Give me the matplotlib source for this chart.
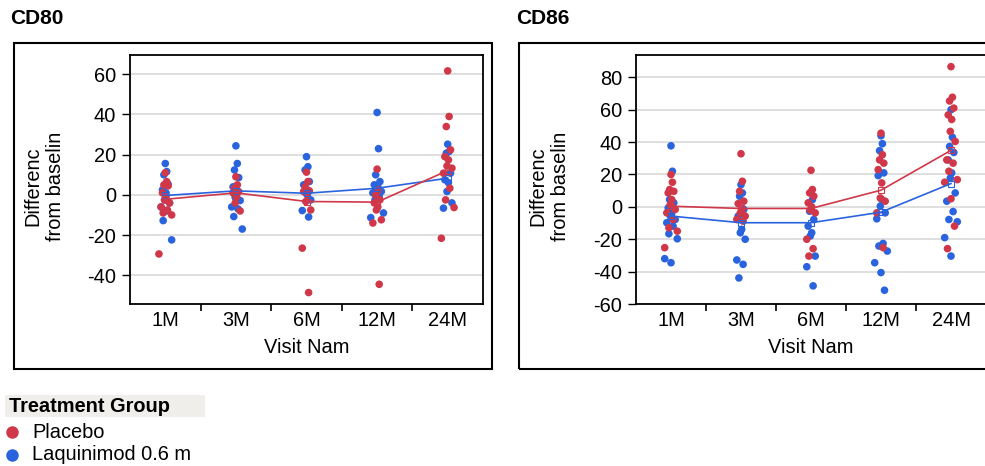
import matplotlib
matplotlib.use('Agg')
import matplotlib.pyplot as plt
from matplotlib.patches import Rectangle
from matplotlib.lines import Line2D
import numpy as np

plt.rcParams['font.family'] = ['Liberation Sans', 'DejaVu Sans']
plt.rcParams['axes.unicode_minus'] = False

visits = ['1M', '3M', '6M', '12M', '24M']

# values, one list per visit
cd80_placebo = [[11, 6.6, 5, 4.5, 1, -1, -2.5, -4, -6, -7.5, -9, -10, -29.4],
                [9, 5, 3.3, 1.6, 1, -1, -4, -8],
                [11.3, 6.6, 4, 2, 1.7, 0, -3.3, -7.5, -26.5, -48.6],
                [12.8, 2.5, 0, -2.5, -4, -6, -7.5, -12.4, -14, -44.5],
                [61.7, 39, 34, 22.4, 19, 17.4, 14.4, 13.3, 10.8, 3.3, -2.5, -6.3, -21.6]]
cd80_laq = [[15.6, 11.6, 10, 5.3, 2.5, 1, -2.5, -4, -6, -8, -12.8, -22.4],
            [24.4, 15.6, 12.4, 8.6, 4, 1.7, -1.2, -2.8, -6, -7, -10.8, -17],
            [19, 14, 12.4, 6.6, 5, 2.5, 1, -2.5, -7.8, -11],
            [41, 23, 10, 6.6, 5, 4, 2.5, 1.7, 1, -1, -2.5, -9, -11.3],
            [25.2, 21.6, 20.7, 10.8, 7.5, 6.1, 1.7, -4, -6.6]]
cd80_placebo_mean = [-2.2, 1, -3.3, -3.6, 12.1]
cd80_laq_mean = [-0.3, 2, 0.8, 3.3, 8.3]

cd86_placebo = [[20, 15.2, 10.7, 9.6, 8.6, 4.5, 1.4, -1.6, -3.7, -7.8, -12.9, -15, -25.2],
                [32.8, 15.8, 9.6, 3.5, 2, -2, -3.7, -5.7, -7.8, -8.8],
                [22.6, 10.7, 8.6, 6.6, 2.5, 0, -2, -3.7, -20, -25.8, -30.4],
                [45.5, 32.2, 29, 27, 23, 14.8, 5.5, 3.5, -3.7, -25.2],
                [86.6, 67.7, 65.4, 61, 56.8, 54, 46.6, 40.4, 29, 27, 22, 16.8, 15.2, 5, -11.9, -25.8]]
cd86_laq = [[37.7, 22, 4.5, 2.5, -0.6, -3.7, -5.7, -7.8, -9.8, -11.9, -16.6, -19.7, -32, -34.5],
            [13.7, 8.6, 6.6, -1.6, -5.7, -13.9, -16, -20, -32.8, -35.5, -43.9],
            [9, 4.5, -2.7, -7.8, -11.9, -16, -18, -30.4, -37, -48.8],
            [43.9, 39, 34.7, 21, 19.3, 4.5, 0.4, -3.7, -7.4, -22.6, -24.2, -27.3, -34.5, -40.6, -51.5],
            [60, 43, 37.3, 33.6, 29, 21, 17.8, 8.6, 3.5, -2.9, -7.8, -9.2, -19, -30.4]]
cd86_placebo_mean = [0.4, -1, -1, 10.3, 34.9]
cd86_laq_mean = [-5.7, -9.8, -9.8, -3.3, 14.4]

RED = '#d0384a'
BLUE = '#2a63de'
W, H = 985, 466
FS = 14.4

# fixed jitter pattern (only spreads points sideways)
jit = np.array([0, 0.02, -0.02, 0.04, -0.04, 0.01, -0.01, 0.06, -0.06, 0.03, -0.03, 0.09, -0.09, 0.0, 0.05, -0.05])


def px(x0, y0, x1, y1):
    # pixel box (top-left origin) -> figure fraction rect
    return [x0 / W, 1 - y1 / H, (x1 - x0) / W, (y1 - y0) / H]


def panel(ax, placebo, laq, pm, lm, ylim, yticks):
    for grp, col in [(laq, BLUE), (placebo, RED)]:
        for i, vals in enumerate(grp):
            xs = i + jit[np.arange(len(vals)) % len(jit)]
            ax.scatter(xs, vals, s=30, color=col, edgecolors='none', zorder=3)
    x = np.arange(len(visits))
    ax.plot(x, lm, color=BLUE, lw=1.2, marker='s', ms=4, mfc='none', mew=0.8, zorder=4)
    ax.plot(x, pm, color=RED, lw=1.2, marker='s', ms=4, mfc='none', mew=0.8, zorder=4)
    ax.set_xlim(-0.5, 4.5)
    ax.set_ylim(*ylim)
    ax.set_yticks(yticks)
    ax.set_xticks(x)
    ax.set_xticklabels(visits)
    ax.set_xticks([0.5, 1.5, 2.5, 3.5], minor=True)
    ax.tick_params(axis='x', which='major', length=0, labelsize=FS, pad=5)
    ax.tick_params(axis='x', which='minor', length=5, width=1.2, direction='out')
    ax.tick_params(axis='y', length=6, width=1, labelsize=FS, pad=4)
    ax.grid(axis='y', color='#d9d9d9', lw=1.2, zorder=0)
    ax.set_axisbelow(True)
    for s in ax.spines.values():
        s.set_linewidth(1.3)
    ax.set_xlabel('Visit Nam', fontsize=FS, labelpad=6)


fig = plt.figure(figsize=(W / 100, H / 100), dpi=100)

# outer frames
fig.patches.append(Rectangle((14 / W, 1 - 369 / H), 478 / W, 326 / H, transform=fig.transFigure,
                             fill=False, edgecolor='black', lw=1.5))
fig.patches.append(Rectangle((519 / W, 1 - 369 / H), 600 / W, 326 / H, transform=fig.transFigure,
                             fill=False, edgecolor='black', lw=1.5))

ax1 = fig.add_axes(px(130, 55, 483, 304))
panel(ax1, cd80_placebo, cd80_laq, cd80_placebo_mean, cd80_laq_mean, (-54.3, 69.6), range(-40, 61, 20))
ax2 = fig.add_axes(px(636, 55, 986, 304))
panel(ax2, cd86_placebo, cd86_laq, cd86_placebo_mean, cd86_laq_mean, (-60, 93.8), range(-60, 81, 20))

fig.text(10 / W, 1 - 19 / H, 'CD80', fontsize=15, fontweight='bold', va='center', ha='left')
fig.text(516 / W, 1 - 19 / H, 'CD86', fontsize=15, fontweight='bold', va='center', ha='left')
for xc in (44.5, 549.5):
    fig.text(xc / W, 1 - 186 / H, 'Differenc\nfrom baselin', rotation=90, fontsize=FS,
             ha='center', va='center', multialignment='center', linespacing=1.25)

# legend
fig.patches.append(Rectangle((5 / W, 1 - 417 / H), 200 / W, 22 / H, transform=fig.transFigure,
                             facecolor='#efeeea', edgecolor='none'))
fig.text(9 / W, 1 - 406 / H, 'Treatment Group', fontsize=FS, fontweight='bold', va='center')
for yy, col, lab in [(432, RED, 'Placebo'), (455, BLUE, 'Laquinimod 0.6 m')]:
    fig.add_artist(Line2D([12 / W], [1 - yy / H], marker='o', ms=9, color=col, mec='none',
                          transform=fig.transFigure))
    fig.text(32 / W, 1 - yy / H, lab, fontsize=FS, va='center')

fig.savefig('out.png', dpi=100)
